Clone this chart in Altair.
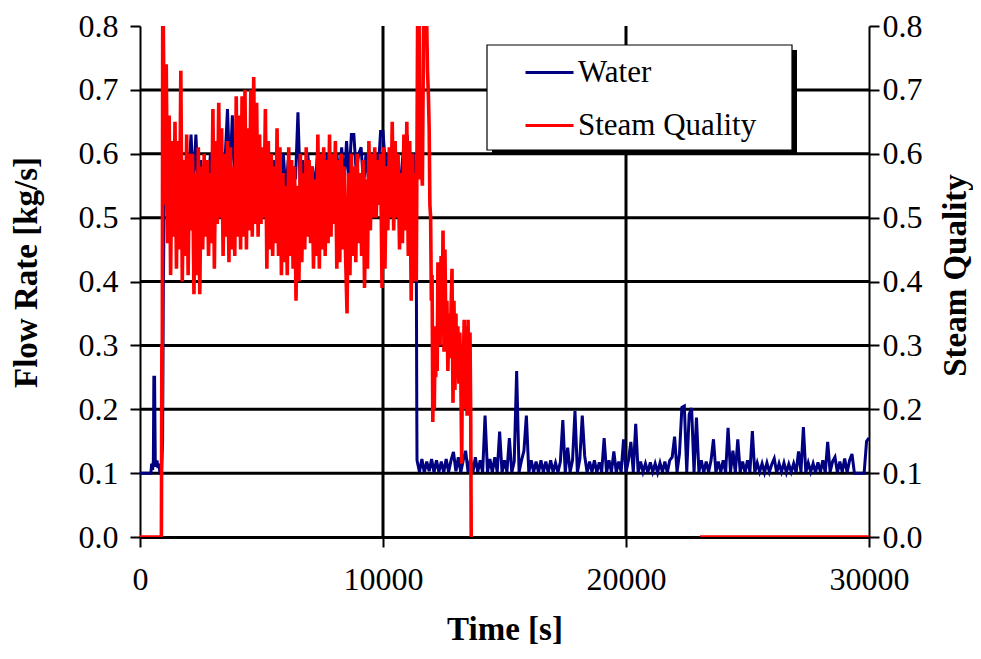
import altair as alt
import pandas as pd

FONT = "Liberation Serif"

# ---------------- data ----------------
series_names = ["Water", "Steam Quality"]
series_colors = ["#000080", "#FF0000"]

x_ticks = [0, 10000, 20000, 30000]
y_ticks = [0.0, 0.1, 0.2, 0.3, 0.4, 0.5, 0.6, 0.7, 0.8]
x_grid = [10000, 20000]
y_grid = [0.1, 0.2, 0.3, 0.4, 0.5, 0.6, 0.7]

# Water flow rate [kg/s]
water_t_start = [0, 300, 450, 480, 520, 550, 570, 600, 630, 660, 700, 740, 780,
                 820, 860, 880, 900, 930, 960, 990, 1030]
water_v_start = [0.10, 0.10, 0.10, 0.115, 0.105, 0.12, 0.25, 0.25, 0.11, 0.115,
                 0.12, 0.108, 0.115, 0.10, 0.10, 0.10, 0.12, 0.15, 0.39, 0.50, 0.60]

water_band_t0, water_band_dt = 1100, 100
water_band_v = [
    0.60, 0.54, 0.58, 0.52, 0.59, 0.55, 0.60, 0.53, 0.58, 0.56,
    0.63, 0.55, 0.63, 0.54, 0.59, 0.52, 0.58, 0.55, 0.60, 0.53,
    0.57, 0.55, 0.60, 0.54, 0.59, 0.67, 0.56, 0.66, 0.55, 0.60,
    0.65, 0.54, 0.59, 0.56, 0.60, 0.53, 0.58, 0.55, 0.59, 0.54,
    0.58, 0.60, 0.60, 0.55, 0.59, 0.53, 0.58, 0.56, 0.60, 0.54,
    0.59, 0.55, 0.58, 0.56, 0.665, 0.54, 0.59, 0.55, 0.60, 0.56,
    0.58, 0.54, 0.60, 0.55, 0.59, 0.56, 0.60, 0.54, 0.58, 0.55,
    0.60, 0.56, 0.61, 0.55, 0.62, 0.56, 0.63, 0.63, 0.57, 0.60,
    0.61, 0.55, 0.60, 0.56, 0.59, 0.54, 0.60, 0.57, 0.635, 0.635,
    0.58, 0.60, 0.55, 0.59, 0.56, 0.60, 0.54, 0.59, 0.627, 0.627,
    0.56, 0.58,
]

water_drop_t = [11260, 11330, 11370, 11390]
water_drop_v = [0.60, 0.57, 0.44, 0.20]

water_base_t0, water_base_dt = 11400, 100
water_base_v = [
    0.12, 0.102, 0.122, 0.101, 0.118, 0.103, 0.122, 0.101, 0.12, 0.102,
    0.118, 0.101, 0.122, 0.102, 0.12, 0.133, 0.103, 0.125, 0.101, 0.12,
    0.135, 0.102, 0.122, 0.101, 0.125, 0.102, 0.12, 0.101, 0.19, 0.102,
    0.122, 0.101, 0.125, 0.102, 0.165, 0.101, 0.12, 0.102, 0.155, 0.101,
    0.118, 0.26, 0.102, 0.12, 0.135, 0.19, 0.101, 0.12, 0.102, 0.118,
    0.101, 0.12, 0.102, 0.118, 0.101, 0.12, 0.102, 0.116, 0.101, 0.118,
    0.183, 0.101, 0.14, 0.102, 0.12, 0.197, 0.101, 0.122, 0.19, 0.127,
    0.101, 0.118, 0.102, 0.12, 0.101, 0.117, 0.102, 0.155, 0.101, 0.12,
    0.102, 0.134, 0.101, 0.118, 0.102, 0.153, 0.101, 0.12, 0.149, 0.102,
    0.177, 0.101, 0.118, 0.102, 0.115, 0.101, 0.117, 0.102, 0.115, 0.101,
    0.116, 0.102, 0.118, 0.101, 0.12, 0.125, 0.157, 0.102, 0.13, 0.203,
    0.205, 0.102, 0.192, 0.202, 0.101, 0.187, 0.102, 0.12, 0.101, 0.118,
    0.102, 0.12, 0.153, 0.101, 0.118, 0.102, 0.12, 0.101, 0.171, 0.102,
    0.135, 0.101, 0.153, 0.102, 0.118, 0.101, 0.12, 0.102, 0.166, 0.101,
    0.116, 0.102, 0.115, 0.101, 0.116, 0.102, 0.114, 0.123, 0.101, 0.115,
    0.102, 0.116, 0.101, 0.114, 0.102, 0.115, 0.101, 0.134, 0.102, 0.172,
    0.101, 0.116, 0.102, 0.115, 0.101, 0.117, 0.102, 0.12, 0.101, 0.149,
    0.102, 0.118, 0.125, 0.101, 0.118, 0.102, 0.123, 0.101, 0.12, 0.13,
    0.10, 0.10, 0.10, 0.10, 0.10, 0.15, 0.155,
]

# Steam quality [-]
steam_t_start = [0, 500, 860, 880, 900, 915, 935]
steam_v_start = [0.0, 0.0, 0.0, 0.0, 0.30, 0.20, 0.82]

steam_band_t0, steam_band_dt = 960, 60
steam_band_v = [
    0.80, 0.52, 0.74, 0.46, 0.66, 0.41, 0.62, 0.47, 0.65, 0.42,
    0.62, 0.45, 0.73, 0.40, 0.59, 0.44, 0.63, 0.41, 0.60, 0.48,
    0.60, 0.38, 0.57, 0.41, 0.61, 0.38, 0.58, 0.45, 0.60, 0.47,
    0.59, 0.44, 0.57, 0.46, 0.67, 0.42, 0.62, 0.49, 0.68, 0.50,
    0.64, 0.44, 0.60, 0.47, 0.62, 0.43, 0.61, 0.45, 0.58, 0.44,
    0.69, 0.47, 0.66, 0.45, 0.69, 0.47, 0.70, 0.45, 0.64, 0.48,
    0.70, 0.47, 0.72, 0.49, 0.68, 0.47, 0.63, 0.49, 0.61, 0.50,
    0.67, 0.42, 0.62, 0.45, 0.60, 0.44, 0.58, 0.46, 0.64, 0.44,
    0.61, 0.41, 0.57, 0.43, 0.55, 0.41, 0.61, 0.44, 0.59, 0.42,
    0.58, 0.37, 0.55, 0.40, 0.60, 0.43, 0.57, 0.45, 0.61, 0.47,
    0.59, 0.46, 0.58, 0.42, 0.56, 0.44, 0.63, 0.42, 0.60, 0.45,
    0.61, 0.44, 0.59, 0.46, 0.63, 0.47, 0.60, 0.49, 0.62, 0.42,
    0.59, 0.43, 0.60, 0.45, 0.58, 0.44, 0.35, 0.57, 0.41, 0.60,
    0.44, 0.58, 0.43, 0.60, 0.46, 0.57, 0.44, 0.59, 0.39, 0.56,
    0.42, 0.62, 0.48, 0.60, 0.50, 0.61, 0.50, 0.59, 0.52, 0.60,
    0.39, 0.61, 0.42, 0.58, 0.48, 0.61, 0.50, 0.65, 0.48, 0.62,
    0.50, 0.60, 0.45, 0.57, 0.46, 0.63, 0.48, 0.65, 0.44, 0.62,
    0.37, 0.60, 0.40, 0.57,
]

steam_decay_t = [
    11370, 11400, 11430, 11480, 11520, 11570, 11620, 11680, 11780, 11830,
    11870, 11900, 11930, 11960, 11990, 12020, 12050, 12080, 12110, 12140,
    12170, 12200, 12230, 12260, 12290, 12320, 12350, 12390, 12430, 12470,
    12510, 12550, 12590, 12630, 12670, 12710, 12750, 12790, 12840, 12880,
    12920, 12960, 13000, 13040, 13080, 13120, 13160, 13200, 13240, 13270,
    13300, 13340, 13380, 13420, 13460, 13500, 13540, 13580, 13610, 13630,
]
steam_decay_v = [
    0.40, 0.62, 0.85, 0.85, 0.56, 0.60, 0.55, 0.85, 0.85, 0.73,
    0.69, 0.64, 0.52, 0.50, 0.37, 0.41, 0.18, 0.33, 0.20, 0.30,
    0.25, 0.33, 0.26, 0.43, 0.31, 0.42, 0.30, 0.44, 0.33, 0.48,
    0.29, 0.45, 0.30, 0.37, 0.26, 0.35, 0.28, 0.34, 0.42, 0.21,
    0.37, 0.23, 0.35, 0.25, 0.33, 0.24, 0.32, 0.26, 0.115, 0.30,
    0.25, 0.34, 0.20, 0.33, 0.19, 0.34, 0.20, 0.32, 0.19, 0.0,
]

steam_end_t = [23050, 30000]
steam_end_v = [0.0, 0.0]

# ---------------- tables ----------------
water_t = (water_t_start
           + [water_band_t0 + water_band_dt * k for k in range(len(water_band_v))]
           + water_drop_t
           + [water_base_t0 + water_base_dt * k for k in range(len(water_base_v))])
water_v = water_v_start + water_band_v + water_drop_v + water_base_v
water_df = pd.DataFrame({"t": water_t, "v": water_v, "series": series_names[0], "seg": "a"})

steam_t1 = (steam_t_start
            + [steam_band_t0 + steam_band_dt * k for k in range(len(steam_band_v))]
            + steam_decay_t)
steam_v1 = steam_v_start + steam_band_v + steam_decay_v
steam_df = pd.concat([
    pd.DataFrame({"t": steam_t1, "v": steam_v1, "series": series_names[1], "seg": "a"}),
    pd.DataFrame({"t": steam_end_t, "v": steam_end_v, "series": series_names[1], "seg": "b"}),
], ignore_index=True)

xgrid_df = pd.DataFrame({"t": x_grid})
ygrid_df = pd.DataFrame({"v": y_grid})
box_df = pd.DataFrame({"k": [0]})

# ---------------- scales / axes ----------------
x_scale = alt.Scale(domain=[0, 30000], nice=False, zero=False)
y_scale = alt.Scale(domain=[0, 0.8], nice=False)
color_scale = alt.Scale(domain=series_names, range=series_colors)

TICK_FS = 32
TITLE_FS = 33

x_axis = alt.Axis(
    values=x_ticks, format="d", title="Time [s]",
    titleFont=FONT, titleFontSize=TITLE_FS, titleFontWeight="bold", titleColor="black",
    titleX=364.5, titleY=102, titleBaseline="alphabetic", titleAlign="center",
    labelFont=FONT, labelFontSize=TICK_FS, labelColor="black", labelPadding=17,
    labelFlush=False, labelOverlap=False,
    tickSize=10, tickWidth=2, tickColor="black",
    domainColor="black", domainWidth=3, grid=False,
)

def y_axis(orient, title, title_x, title_y, label_pad):
    return alt.Axis(
        orient=orient, values=y_ticks, format=".1f", title=title,
        titleFont=FONT, titleFontSize=TITLE_FS, titleFontWeight="bold", titleColor="black",
        titleAngle=270, titleX=title_x, titleY=title_y,
        titleAlign="center", titleBaseline="alphabetic",
        labelFont=FONT, labelFontSize=TICK_FS, labelColor="black", labelPadding=label_pad,
        labelFlush=False, labelOverlap=False,
        tickSize=10, tickWidth=2, tickColor="black",
        domainColor="black", domainWidth=2, grid=False,
    )

legend = alt.Legend(
    orient="none", legendX=384, legendY=21, title=None,
    symbolType="stroke", symbolSize=2304, symbolStrokeWidth=3,
    labelFont=FONT, labelFontSize=31, labelColor="black", labelOffset=3,
    labelLimit=0, rowPadding=12, padding=0,
)

# ---------------- layers ----------------
hgrid = alt.Chart(ygrid_df).mark_rule(color="black", strokeWidth=3).encode(
    y=alt.Y("v:Q", scale=y_scale, axis=None)
)
vgrid = alt.Chart(xgrid_df).mark_rule(color="black", strokeWidth=3).encode(
    x=alt.X("t:Q", scale=x_scale, axis=x_axis)
)

water_line = alt.Chart(water_df).mark_line(strokeWidth=3.0, clip=True).encode(
    x=alt.X("t:Q", scale=x_scale, axis=x_axis),
    y=alt.Y("v:Q", scale=y_scale,
            axis=y_axis("left", "Flow Rate [kg/s]", -104, 246, 12)),
    color=alt.Color("series:N", scale=color_scale, legend=legend),
    detail="seg:N",
)

steam_line = alt.Chart(steam_df).mark_line(strokeWidth=3.6, clip=True).encode(
    x=alt.X("t:Q", scale=x_scale, axis=x_axis),
    y=alt.Y("v:Q", scale=y_scale,
            axis=y_axis("right", "Steam Quality", 96, 249, 3)),
    color=alt.Color("series:N", scale=color_scale, legend=legend),
    detail="seg:N",
)

shadow = alt.Chart(box_df).mark_rect(color="black").encode(
    x=alt.value(352), x2=alt.value(657), y=alt.value(24), y2=alt.value(129)
)
box = alt.Chart(box_df).mark_rect(fill="white", stroke="black", strokeWidth=1.2).encode(
    x=alt.value(347), x2=alt.value(652), y=alt.value(19), y2=alt.value(124)
)

chart = (
    alt.layer(hgrid, vgrid, water_line, steam_line, shadow, box)
    .resolve_scale(y="independent")
    .properties(
        width=729, height=511,
        padding={"left": 132, "top": 18, "right": 104, "bottom": 110},
        autosize=alt.AutoSizeParams(type="none"),
        background="white",
    )
    .configure_view(stroke=None)
)

chart.save("out.html", embed_options={"renderer": "svg", "actions": False})
